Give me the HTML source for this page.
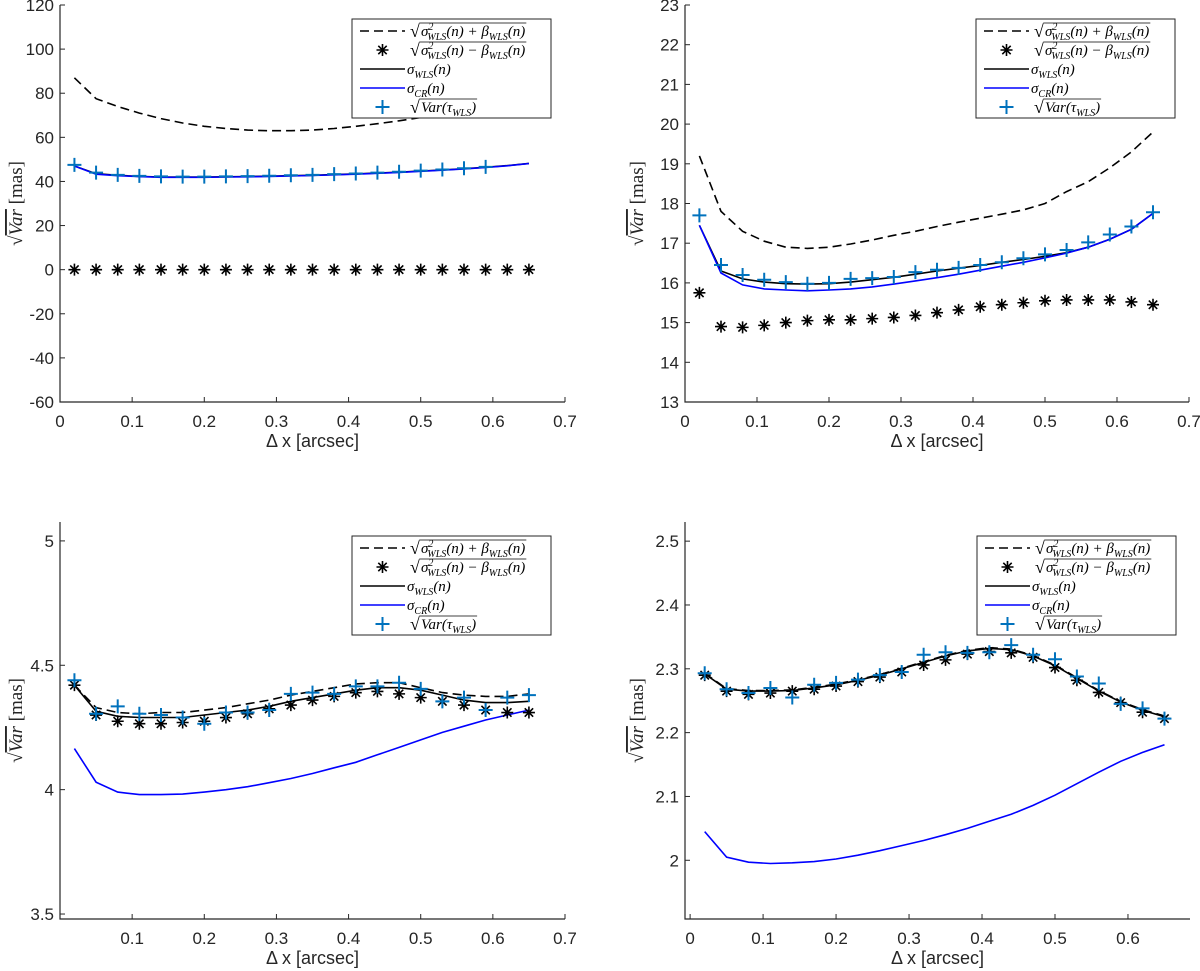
<!DOCTYPE html>
<html><head><meta charset="utf-8">
<style>
body{margin:0;background:#fff;}
svg{display:block;font-family:"Liberation Sans",sans-serif;}
.tk{font-size:17px;fill:#262626;}
.lg{font-family:"Liberation Serif",serif;font-style:italic;font-size:15px;fill:#000;}
</style></head>
<body>
<svg id="fig" width="1200" height="971" viewBox="0 0 1200 971"></svg>
<script>
const xs = [0.02,0.05,0.08,0.11,0.14,0.17,0.20,0.23,0.26,0.29,0.32,0.35,0.38,0.41,0.44,0.47,0.50,0.53,0.56,0.59,0.62,0.65];

// Panel 1 (top-left)
const p1Dashed = [87,77.5,74,71,68.5,66.5,65,64,63.3,63,63,63.3,64,65,66.2,67.5,69,71,73,75,77.5,80];
const p1Stars = [0,0,0,0,0,0,0,0,0,0,0,0,0,0,0,0,0,0,0,0,0,0];
const p1Black = [47,43.5,42.8,42.3,42,42,42,42.1,42.2,42.4,42.6,42.8,43.1,43.4,43.8,44.2,44.7,45.2,45.8,46.4,47.2,48.2];
const p1Blue = [47,43.3,42.6,42.2,41.9,41.9,41.9,42,42.1,42.3,42.5,42.7,43,43.3,43.7,44.1,44.6,45.1,45.7,46.3,47.1,48.1];
const p1Plus = [47.5,44,43,42.5,42.3,42.2,42.2,42.3,42.4,42.6,42.8,43,43.3,43.6,44,44.4,44.9,45.4,46,46.6];

// Panel 2 (top-right)
const p2Dashed = [19.2,17.8,17.3,17.05,16.9,16.87,16.9,16.98,17.08,17.2,17.3,17.42,17.53,17.63,17.73,17.84,18.0,18.3,18.55,18.9,19.3,19.8];
const p2Stars = [15.75,14.9,14.88,14.93,15.0,15.05,15.07,15.07,15.1,15.13,15.18,15.25,15.32,15.4,15.45,15.5,15.55,15.57,15.57,15.57,15.52,15.45];
const p2Black = [17.45,16.3,16.1,16.02,15.98,15.97,15.98,16.02,16.08,16.14,16.22,16.3,16.37,16.44,16.52,16.59,16.67,16.76,16.9,17.1,17.35,17.75];
const p2Blue = [17.45,16.25,15.95,15.85,15.82,15.8,15.82,15.85,15.9,15.97,16.05,16.13,16.22,16.32,16.42,16.52,16.63,16.75,16.9,17.1,17.35,17.75];
const p2Plus = [17.7,16.45,16.2,16.08,16.02,15.98,16.0,16.1,16.12,16.15,16.27,16.33,16.38,16.45,16.52,16.62,16.72,16.83,17.02,17.22,17.42,17.78];

// Panel 3 (bottom-left)
const p3Dashed = [4.42,4.33,4.31,4.305,4.31,4.31,4.32,4.33,4.345,4.36,4.38,4.395,4.41,4.425,4.43,4.43,4.41,4.39,4.38,4.375,4.375,4.385];
const p3Stars = [4.42,4.30,4.275,4.265,4.265,4.27,4.275,4.29,4.305,4.325,4.34,4.36,4.375,4.39,4.395,4.385,4.37,4.355,4.34,4.32,4.31,4.31];
const p3Black = [4.42,4.315,4.295,4.29,4.29,4.29,4.30,4.31,4.32,4.335,4.355,4.37,4.385,4.4,4.41,4.41,4.40,4.38,4.36,4.35,4.35,4.355];
const p3Blue = [4.165,4.03,3.99,3.98,3.98,3.982,3.99,4.0,4.012,4.028,4.045,4.065,4.088,4.11,4.14,4.17,4.2,4.23,4.255,4.28,4.3,4.32];
const p3Plus = [4.44,4.305,4.335,4.305,4.3,4.29,4.265,4.31,4.31,4.32,4.385,4.39,4.385,4.415,4.415,4.43,4.405,4.355,4.37,4.32,4.37,4.38];

// Panel 4 (bottom-right)
const p4Dashed = [2.293,2.269,2.266,2.266,2.267,2.271,2.276,2.283,2.291,2.301,2.311,2.321,2.329,2.333,2.331,2.321,2.306,2.286,2.266,2.249,2.236,2.226];
const p4Stars = [2.29,2.265,2.26,2.262,2.265,2.268,2.273,2.28,2.287,2.295,2.306,2.314,2.323,2.327,2.325,2.318,2.302,2.282,2.263,2.247,2.232,2.222];
const p4Black = [2.292,2.268,2.265,2.265,2.266,2.27,2.275,2.282,2.29,2.3,2.31,2.32,2.328,2.332,2.33,2.32,2.305,2.285,2.265,2.248,2.235,2.225];
const p4Blue = [2.045,2.005,1.997,1.995,1.996,1.998,2.002,2.008,2.015,2.023,2.031,2.04,2.05,2.061,2.072,2.086,2.102,2.12,2.138,2.155,2.169,2.181];
const p4Plus = [2.293,2.268,2.262,2.27,2.255,2.275,2.278,2.283,2.29,2.295,2.322,2.326,2.325,2.326,2.337,2.322,2.315,2.288,2.277,2.245,2.238,2.222];

const p1XTicks = [0,0.1,0.2,0.3,0.4,0.5,0.6,0.7];
const p1YTicks = [-60,-40,-20,0,20,40,60,80,100,120];
const p2XTicks = [0,0.1,0.2,0.3,0.4,0.5,0.6,0.7];
const p2YTicks = [13,14,15,16,17,18,19,20,21,22,23];
const p3XTicks = [0.1,0.2,0.3,0.4,0.5,0.6,0.7];
const p3YTicks = [3.5,4,4.5,5];
const p4XTicks = [0,0.1,0.2,0.3,0.4,0.5,0.6];
const p4YTicks = [2,2.1,2.2,2.3,2.4,2.5];

const NS = "http://www.w3.org/2000/svg";
const svg = document.getElementById('fig');
function mk(tag, attrs, parent){
  const e = document.createElementNS(NS, tag);
  for (const k in attrs) e.setAttribute(k, attrs[k]);
  (parent||svg).appendChild(e);
  return e;
}

const panels = [
  {id:'top-left', L:60, R:565, T:5, B:402, x0:0, x1:0.7, y0:-60, y1:120, xt:p1XTicks, yt:p1YTicks, dashed:p1Dashed, stars:p1Stars, black:p1Black, blue:p1Blue, plus:p1Plus, lg:[352,19]},
  {id:'top-right', L:685, R:1189, T:5, B:402, x0:0, x1:0.7, y0:13, y1:23, xt:p2XTicks, yt:p2YTicks, dashed:p2Dashed, stars:p2Stars, black:p2Black, blue:p2Blue, plus:p2Plus, lg:[976,19]},
  {id:'bottom-left', L:60, R:565, T:522, B:919, x0:0, x1:0.7, y0:3.48, y1:5.076, xt:p3XTicks, yt:p3YTicks, dashed:p3Dashed, stars:p3Stars, black:p3Black, blue:p3Blue, plus:p3Plus, lg:[352,536]},
  {id:'bottom-right', L:685, R:1190, T:522, B:919, x0:-0.007, x1:0.685, y0:1.908, y1:2.53, xt:p4XTicks, yt:p4YTicks, dashed:p4Dashed, stars:p4Stars, black:p4Black, blue:p4Blue, plus:p4Plus, lg:[977,536]}
];

function starAt(g, x, y, r){
  const p = mk('path', {d:`M${x-r},${y}H${x+r}M${x},${y-r}V${y+r}M${x-r*0.7},${y-r*0.7}L${x+r*0.7},${y+r*0.7}M${x-r*0.7},${y+r*0.7}L${x+r*0.7},${y-r*0.7}`, stroke:'#000','stroke-width':1.6, fill:'none'}, g);
  
  
}
function plusAt(g, x, y, r){
  const p = mk('path', {d:`M${x-r},${y}H${x+r}M${x},${y-r}V${y+r}`, stroke:'#0072BD','stroke-width':2, fill:'none'}, g);
  
  
}

const rowHtml = [
  'σ<tspan font-size="10" dy="-6">2</tspan><tspan font-size="10" dx="-6" dy="10">WLS</tspan><tspan dy="-4">(n) + β</tspan><tspan font-size="10" dy="4">WLS</tspan><tspan dy="-4">(n)</tspan>',
  'σ<tspan font-size="10" dy="-6">2</tspan><tspan font-size="10" dx="-6" dy="10">WLS</tspan><tspan dy="-4">(n) − β</tspan><tspan font-size="10" dy="4">WLS</tspan><tspan dy="-4">(n)</tspan>',
  'σ<tspan font-size="10" dy="4">WLS</tspan><tspan dy="-4">(n)</tspan>',
  'σ<tspan font-size="10" dy="4">CR</tspan><tspan dy="-4">(n)</tspan>',
  'Var(τ<tspan font-size="10" dy="4">WLS</tspan><tspan dy="-4">)</tspan>'
];
const rowKinds = ['dash','star','black','blue','plus'];
const rowSqrt = [true,true,false,false,true];

panels.forEach(P => {
  const sx = v => P.L + (v - P.x0) / (P.x1 - P.x0) * (P.R - P.L);
  const sy = v => P.B - (v - P.y0) / (P.y1 - P.y0) * (P.B - P.T);
  const g = mk('g', {});
  
  
  const cid = 'clip-' + P.id;
  const cp = mk('clipPath', {id:cid}, g);
  mk('rect', {x:P.L, y:P.T, width:P.R-P.L, height:P.B-P.T}, cp);
  const plot = mk('g', {'clip-path':`url(#${cid})`}, g);
  
  

  const line = (arr, color, dash, name) => {
    const d = arr.map((v,i)=>(i?'L':'M')+sx(xs[i]).toFixed(1)+','+sy(v).toFixed(1)).join('');
    const p = mk('path', {d, stroke:color, 'stroke-width':1.6, fill:'none'}, plot);
    if (dash) p.setAttribute('stroke-dasharray', dash);
    
    
  };
  line(P.dashed, '#000', '9,5', 'sqrt-sum-dashed-line');
  line(P.black, '#000', null, 'sigma-wls-line');
  line(P.blue, '#0000ff', null, 'sigma-cr-line');
  P.stars.forEach((v,i)=>starAt(plot, sx(xs[i]), sy(v), 6));
  P.plus.forEach((v,i)=>plusAt(plot, sx(xs[i]), sy(v), 7));

  const ax = mk('path', {d:`M${P.L},${P.T}V${P.B}H${P.R}`, stroke:'#262626','stroke-width':1.2, fill:'none'}, g);
  
  
  P.xt.forEach(t => {
    const x = sx(t);
    mk('line', {x1:x, x2:x, y1:P.B, y2:P.B-5, stroke:'#262626','stroke-width':1}, g);
    const tx = mk('text', {x:x, y:P.B+25, 'text-anchor':'middle', class:'tk'}, g);
    tx.textContent = String(t);
    
    
  });
  P.yt.forEach(t => {
    const y = sy(t);
    mk('line', {x1:P.L, x2:P.L+5, y1:y, y2:y, stroke:'#262626','stroke-width':1}, g);
    const tx = mk('text', {x:P.L-6, y:y+6, 'text-anchor':'end', class:'tk'}, g);
    tx.textContent = String(t);
    
    
  });
  const xl = mk('text', {x:(P.L+P.R)/2, y:P.B+45, 'text-anchor':'middle', class:'tk', style:'font-size:18px'}, g);
  xl.textContent = 'Δ x [arcsec]';
  
  
  const ylx = P.L - (P.id.indexOf('left')>=0 ? 38 : 42);
  const yly = (P.T+P.B)/2;
  const yl = mk('text', {x:ylx, y:yly, 'text-anchor':'middle', transform:`rotate(-90 ${ylx} ${yly})`, 'font-family':'Liberation Serif, serif', 'font-size':'19', fill:'#262626'}, g);
  yl.innerHTML = '√<tspan font-style="italic" text-decoration="overline">Var</tspan> [mas]';
  
  

  const [lx, ly] = P.lg;
  const lg = mk('g', {}, g);
  
  
  mk('rect', {x:lx, y:ly, width:199, height:99, fill:'#fff', stroke:'#262626', 'stroke-width':1}, lg);
  rowKinds.forEach((kind,i) => {
    const y = ly + 12 + i*19;
    const ent = mk('g', {}, lg);
    
    
    const a = lx+8, b = lx+53;
    if (kind==='dash') mk('line',{x1:a,x2:b,y1:y,y2:y,stroke:'#000','stroke-width':1.6,'stroke-dasharray':'9,5'},ent);
    if (kind==='black') mk('line',{x1:a,x2:b,y1:y,y2:y,stroke:'#000','stroke-width':1.6},ent);
    if (kind==='blue') mk('line',{x1:a,x2:b,y1:y,y2:y,stroke:'#0000ff','stroke-width':1.6},ent);
    if (kind==='star') starAt(ent, (a+b)/2, y, 6);
    if (kind==='plus') plusAt(ent, (a+b)/2, y, 7);
    let tx0 = rowSqrt[i] ? lx+58 : lx+55;
    if (rowSqrt[i]) {
      const s = mk('text', {x:tx0, y:y+6, class:'lg', style:'font-style:normal;font-size:18px'}, ent);
      s.textContent = '√';
      tx0 += 11;
    }
    const tx = mk('text', {x:tx0, y:y+5, class:'lg'}, ent);
    tx.innerHTML = rowHtml[i];
    if (rowSqrt[i]) {
      let w = 100;
      try { w = tx.getBBox().width; } catch(e) {}
      mk('line', {x1:tx0-1, x2:tx0+w+1, y1:y-8, y2:y-8, stroke:'#000', 'stroke-width':0.8}, ent);
    }
  });
});
</script>
</body></html>
